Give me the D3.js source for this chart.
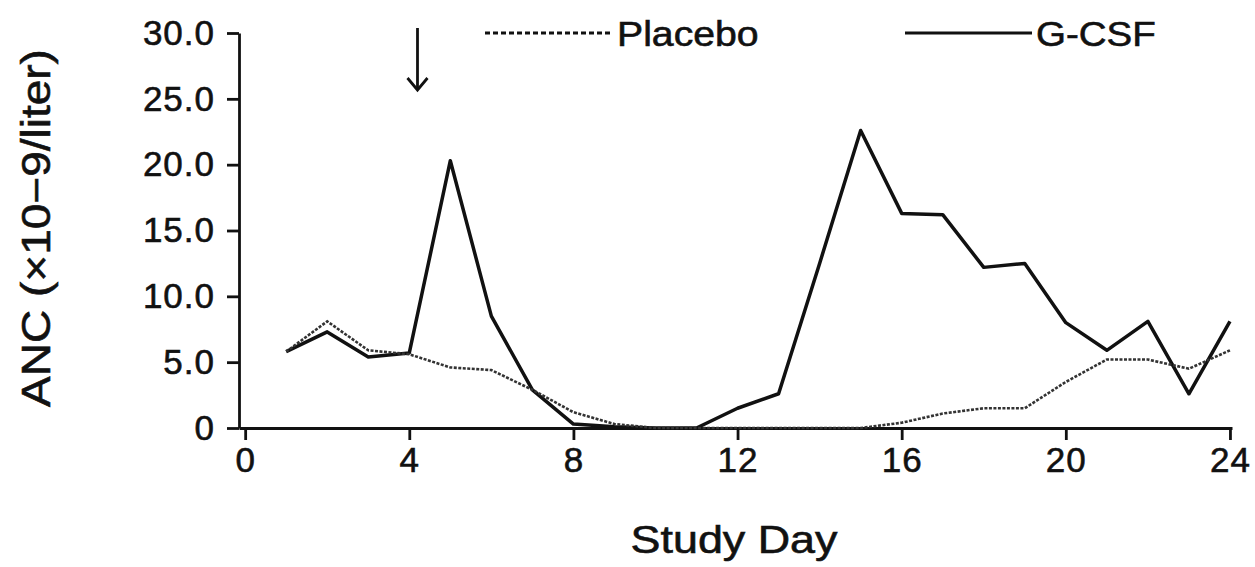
<!DOCTYPE html>
<html>
<head>
<meta charset="utf-8">
<script src="https://cdn.jsdelivr.net/npm/d3@7"></script>
<style>
  body { margin: 0; background: #fff; }
  text { font-family: "Liberation Sans", Arial, Helvetica, sans-serif; fill: #111; stroke: #111; stroke-width: 0.6px; }
</style>
</head>
<body>
<div id="chart"></div>
<script>
// values (ANC x10^9/liter per study day)
var days = [1, 2, 3, 4, 5, 6, 7, 8, 9, 10, 11, 12, 13, 14, 15, 16, 17, 18, 19, 20, 21, 22, 23, 24];
var gcsf = [5.8, 7.3, 5.4, 5.7, 20.3, 8.5, 2.9, 0.3, 0.1, 0, 0, 1.5, 2.6, 12.5, 22.6, 16.3, 16.2, 12.2, 12.5, 8.0, 5.9, 8.1, 2.6, 8.1];
var placebo = [5.8, 8.1, 5.9, 5.6, 4.6, 4.4, 2.9, 1.2, 0.3, 0, 0, 0, 0, 0, 0, 0.4, 1.1, 1.5, 1.5, 3.5, 5.2, 5.2, 4.5, 5.9];
var xTicks = [0, 4, 8, 12, 16, 20, 24];
var yTicks = [0, 5, 10, 15, 20, 25, 30];
var seriesNames = ["Placebo", "G-CSF"];
var doseDay = 4.2;

var W = 1255, H = 567;
var margin = { top: 33, right: 23, bottom: 139, left: 239 };
var width = W - margin.left - margin.right;
var height = H - margin.top - margin.bottom;

var svg = d3.select("#chart")
  .append("svg")
  .attr("width", W)
  .attr("height", H)
  .style("background", "#fff");

var chart = svg.append("g")
  .attr("transform", "translate(" + margin.left + "," + margin.top + ")");

var x = d3.scaleLinear().domain([-0.15, 24.05]).range([0, width]);
var y = d3.scaleLinear().domain([0, 30]).range([height, 0]);

function fmt(d) { return d === 0 ? "0" : d.toFixed(1); }

// axes
var yAxis = chart.append("g")
  .call(d3.axisLeft(y).tickValues(yTicks).tickSize(12).tickPadding(12).tickSizeOuter(0).tickFormat(fmt));
var xAxis = chart.append("g")
  .attr("transform", "translate(0," + height + ")")
  .call(d3.axisBottom(x).tickValues(xTicks).tickSize(12).tickPadding(7).tickSizeOuter(0));

[xAxis, yAxis].forEach(function (a) {
  a.selectAll("path, line").attr("stroke", "#111").attr("stroke-width", 2.8);
  a.selectAll("text")
    .attr("fill", "#111")
    .style("font-size", "35px")
    .style("letter-spacing", "1px");
});

// series
var dataReady = [
  { name: seriesNames[0], values: days.map(function (d, i) { return { day: d, value: placebo[i] }; }) },
  { name: seriesNames[1], values: days.map(function (d, i) { return { day: d, value: gcsf[i] }; }) }
];

var line = d3.line()
  .x(function (d) { return x(d.day); })
  .y(function (d) { return y(d.value); });

chart.append("path")
  .datum(dataReady[1].values)
  .attr("d", line)
  .attr("fill", "none")
  .attr("stroke", "#111")
  .attr("stroke-width", 3.5)
  .attr("stroke-linejoin", "round");

chart.append("path")
  .datum(dataReady[0].values)
  .attr("d", line)
  .attr("fill", "none")
  .attr("stroke", "#333")
  .attr("stroke-width", 2.6)
  .attr("stroke-dasharray", "3,1.5");

// dose arrow
var ax = x(doseDay);
var arrow = chart.append("g").attr("stroke", "#111").attr("stroke-width", 2.8).attr("fill", "none");
arrow.append("line").attr("x1", ax).attr("x2", ax).attr("y1", -5).attr("y2", 56);
arrow.append("path").attr("d", "M" + (ax - 10) + "," + 45 + "L" + ax + "," + 57 + "L" + (ax + 10) + "," + 45);

// legend
var legend = [
  { name: seriesNames[0], x1: 485, x2: 613, tx: 617, sx: 1.12, dash: "5,3" },
  { name: seriesNames[1], x1: 905, x2: 1032, tx: 1036, sx: 1.1, dash: null }
];
legend.forEach(function (l) {
  svg.append("line")
    .attr("x1", l.x1).attr("x2", l.x2).attr("y1", 33).attr("y2", 33)
    .attr("stroke", "#111").attr("stroke-width", 3)
    .attr("stroke-dasharray", l.dash);
  svg.append("text")
    .attr("transform", "translate(" + l.tx + ",46) scale(" + l.sx + ",1)")
    .style("font-size", "35px")
    .text(l.name);
});

// axis titles
svg.append("text")
  .attr("transform", "translate(734,553) scale(1.18,1)")
  .attr("text-anchor", "middle")
  .style("font-size", "38px")
  .text("Study Day");

svg.append("text")
  .attr("transform", "translate(50,228) rotate(-90) scale(1.15,1)")
  .attr("text-anchor", "middle")
  .style("font-size", "40px")
  .text("ANC (\u00d710\u22129/liter)");
</script>
</body>
</html>
